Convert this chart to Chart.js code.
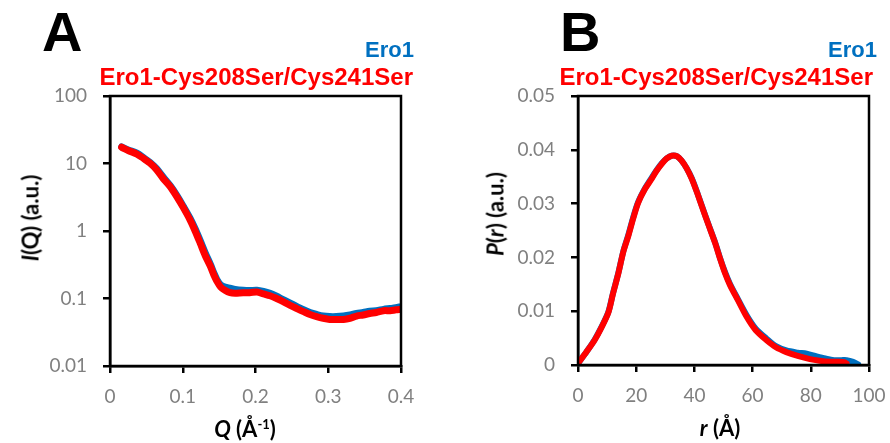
<!DOCTYPE html>
<html>
<head>
<meta charset="utf-8">
<script src="https://cdn.jsdelivr.net/npm/chart.js@4/dist/chart.umd.min.js"></script>
<style>
  body { margin: 0; background: #fff; }
  #wrap { position: relative; width: 890px; height: 443px; overflow: hidden; }
  canvas { position: absolute; top: 0; }
  .txt { position: absolute; white-space: nowrap; font-family: "Liberation Sans", Arial, sans-serif; font-weight: bold; }
  .letter { font-size: 56px; color: #000; line-height: 1; }
  .ero { font-size: 22px; color: #0070c0; text-align: right; }
  .mut { font-size: 24px; color: #ff0000; text-align: right; }
  .ttl { font-family: Lato, "Liberation Sans", sans-serif; font-size: 22px; color: #000; transform: translate(-50%, -50%); }
  .rot { transform: translate(-50%, -50%) rotate(-90deg); }
  sup { font-size: 13px; vertical-align: 8px; line-height: 0; }
</style>
</head>
<body>
<div id="wrap">
  <canvas id="chartA" width="445" height="443" style="left:0"></canvas>
  <canvas id="chartB" width="445" height="443" style="left:445px"></canvas>

  <div class="txt letter" style="left:42px; top:4px">A</div>
  <div class="txt letter" style="left:560px; top:4px">B</div>

  <div class="txt ero" style="right:476px; top:37px">Ero1</div>
  <div class="txt mut" style="right:477px; top:63px">Ero1-Cys208Ser/Cys241Ser</div>
  <div class="txt ero" style="right:13px; top:37px">Ero1</div>
  <div class="txt mut" style="right:17px; top:63px">Ero1-Cys208Ser/Cys241Ser</div>

  <div class="txt ttl rot" style="left:30px; top:218px"><i>I</i>(Q) (a.u.)</div>
  <div class="txt ttl" style="left:245px; top:428px"><i>Q</i> (Å<sup>-1</sup>)</div>
  <div class="txt ttl rot" style="left:495px; top:214px"><i>P</i>(<i>r</i>) (a.u.)</div>
  <div class="txt ttl" style="left:720px; top:427px"><i>r</i> (Å)</div>
</div>

<script>
// Panel A: scattering curve I(Q)
const qEro1 = [0.016, 0.025, 0.037, 0.046, 0.055, 0.064, 0.073, 0.083, 0.092, 0.101, 0.110, 0.117, 0.124, 0.131, 0.138, 0.143, 0.147, 0.152, 0.158, 0.165, 0.172, 0.183, 0.192, 0.202, 0.211, 0.220, 0.229, 0.238, 0.247, 0.257, 0.266, 0.275, 0.284, 0.293, 0.302, 0.311, 0.321, 0.330, 0.339, 0.348, 0.357, 0.366, 0.376, 0.385, 0.393, 0.400];
const iEro1 = [17.6, 15.9, 14.2, 12.2, 10.4, 8.4, 6.3, 4.65, 3.35, 2.3, 1.55, 1.08, 0.72, 0.47, 0.32, 0.235, 0.19, 0.16, 0.148, 0.142, 0.136, 0.132, 0.131, 0.132, 0.127, 0.119, 0.108, 0.096, 0.086, 0.076, 0.068, 0.062, 0.058, 0.055, 0.054, 0.054, 0.055, 0.057, 0.060, 0.062, 0.065, 0.066, 0.069, 0.071, 0.073, 0.076];

const qMut = [0.016, 0.025, 0.037, 0.046, 0.055, 0.064, 0.073, 0.083, 0.092, 0.101, 0.110, 0.117, 0.124, 0.131, 0.138, 0.143, 0.147, 0.152, 0.158, 0.165, 0.172, 0.183, 0.192, 0.202, 0.211, 0.220, 0.229, 0.238, 0.247, 0.257, 0.266, 0.275, 0.284, 0.293, 0.302, 0.311, 0.321, 0.330, 0.339, 0.348, 0.357, 0.366, 0.376, 0.385, 0.393, 0.400];
const iMut = [17.4, 15.6, 13.8, 11.9, 10.1, 8.1, 6.0, 4.5, 3.2, 2.2, 1.46, 1.0, 0.66, 0.43, 0.30, 0.22, 0.18, 0.148, 0.132, 0.122, 0.120, 0.122, 0.122, 0.125, 0.117, 0.110, 0.100, 0.090, 0.080, 0.071, 0.064, 0.058, 0.054, 0.051, 0.049, 0.049, 0.049, 0.051, 0.055, 0.057, 0.060, 0.062, 0.066, 0.066, 0.068, 0.069];

const qTicks = [0, 0.1, 0.2, 0.3, 0.4];
const qTickLabels = ['0', '0.1', '0.2', '0.3', '0.4'];
const iTicks = [0.01, 0.1, 1, 10, 100];
const iTickLabels = ['0.01', '0.1', '1', '10', '100'];

// Panel B: pair distance distribution P(r)
const rEro1 = [0, 3, 5.8, 8, 10.4, 12, 13.9, 15.6, 17.3, 19, 20.7, 23, 25.3, 27, 28.8, 30.5, 32.2, 34, 35.6, 37.3, 39.1, 40.8, 42.5, 44.8, 47.1, 48.8, 50.5, 52.2, 55, 57.9, 61, 64.8, 68, 71.6, 75.5, 78.6, 82, 85, 88, 90.5, 92.3, 94.5, 96.3];
const pEro1 = [0.0003, 0.0025, 0.0048, 0.007, 0.0098, 0.0133, 0.0172, 0.0212, 0.0242, 0.0275, 0.0303, 0.0328, 0.0348, 0.0362, 0.0375, 0.0384, 0.0389, 0.0388, 0.038, 0.0366, 0.0347, 0.0323, 0.0297, 0.0262, 0.0228, 0.0199, 0.0173, 0.0151, 0.0122, 0.0093, 0.0068, 0.0049, 0.0035, 0.0027, 0.0023, 0.0021, 0.0016, 0.0012, 0.0009, 0.0009, 0.0009, 0.0006, 0.0001];

const rMut = [0, 3, 5.8, 8, 10.4, 12, 13.9, 15.6, 17.3, 19, 20.7, 23, 25.3, 27, 28.8, 30.5, 32.2, 34, 35.6, 37.3, 39.1, 40.8, 42.5, 44.8, 47.1, 48.8, 50.5, 52.2, 55, 57.9, 61, 64.8, 68, 71.6, 75.5, 79.7, 83, 86.6, 89.5, 91.5, 92.3];
const pMut = [0.0003, 0.0025, 0.0047, 0.0069, 0.0097, 0.0132, 0.0171, 0.0211, 0.024, 0.0273, 0.0302, 0.0327, 0.0346, 0.0361, 0.0374, 0.0384, 0.0389, 0.0388, 0.038, 0.0366, 0.0346, 0.0322, 0.0296, 0.0261, 0.0227, 0.0198, 0.0171, 0.0149, 0.012, 0.009, 0.0065, 0.0046, 0.0033, 0.0024, 0.0017, 0.0011, 0.0008, 0.0006, 0.0006, 0.0005, 0.0003];

const rTicks = [0, 20, 40, 60, 80, 100];
const rTickLabels = ['0', '20', '40', '60', '80', '100'];
const pTicks = [0, 0.01, 0.02, 0.03, 0.04, 0.05];
const pTickLabels = ['0', '0.01', '0.02', '0.03', '0.04', '0.05'];

const BLUE = '#0070c0';
const RED = '#ff0000';
const tickFont = { family: 'Lato', size: 19 };

// draws the closed box around the plot area
const frame = {
  id: 'frame',
  afterDraw(chart) {
    const a = chart.chartArea;
    const c = chart.ctx;
    c.save();
    c.strokeStyle = '#000';
    c.lineWidth = 2.5;
    c.strokeRect(a.left, a.top, a.right - a.left, a.bottom - a.top);
    c.restore();
  }
};

function pairs(xs, ys) {
  return xs.map((x, i) => ({ x: x, y: ys[i] }));
}

function makeScale(opts, values, labels, size, isY) {
  return Object.assign({
    afterBuildTicks(scale) {
      scale.ticks = values.map(v => ({ value: v }));
    },
    afterFit(scale) {
      if (isY) scale.width = size; else scale.height = size;
      // keep the plot area where the reference has it
      scale.paddingLeft = 0; scale.paddingRight = 0;
      scale.paddingTop = 0; scale.paddingBottom = 0;
    },
    border: { display: true, color: '#000', width: 2.5 },
    grid: { display: true, drawOnChartArea: false, drawTicks: true, tickLength: 7, color: '#000', lineWidth: 2.5 },
    ticks: {
      color: '#808080', font: tickFont, padding: isY ? 16 : 12, maxRotation: 0, autoSkip: false,
      callback(value) {
        const i = values.findIndex(v => Math.abs(v - value) < 1e-9);
        return i >= 0 ? labels[i] : '';
      }
    },
    title: { display: false }
  }, opts);
}

function lineSet(label, data, color, width, order) {
  return {
    label: label,
    data: data,
    showLine: true,
    borderColor: color,
    backgroundColor: color,
    borderWidth: width,
    pointRadius: 0,
    tension: 0.3,
    borderCapStyle: 'round',
    borderJoinStyle: 'round',
    order: order
  };
}

const common = {
  responsive: false,
  animation: false,
  plugins: { legend: { display: false }, tooltip: { enabled: false } }
};

new Chart(document.getElementById('chartA'), {
  type: 'scatter',
  data: {
    datasets: [
      lineSet('Ero1-Cys208Ser/Cys241Ser', pairs(qMut, iMut), RED, 7, 0),
      lineSet('Ero1', pairs(qEro1, iEro1), BLUE, 7, 1)
    ]
  },
  options: Object.assign({}, common, {
    layout: { padding: { left: 0, right: 44, top: 96, bottom: 0 } },
    scales: {
      x: makeScale({ type: 'linear', min: 0, max: 0.4 }, qTicks, qTickLabels, 77, false),
      y: makeScale({ type: 'logarithmic', min: 0.01, max: 100 }, iTicks, iTickLabels, 110, true)
    }
  }),
  plugins: [frame]
});

new Chart(document.getElementById('chartB'), {
  type: 'scatter',
  data: {
    datasets: [
      lineSet('Ero1-Cys208Ser/Cys241Ser', pairs(rMut, pMut), RED, 6, 0),
      lineSet('Ero1', pairs(rEro1, pEro1), BLUE, 6, 1)
    ]
  },
  options: Object.assign({}, common, {
    layout: { padding: { left: 0, right: 21, top: 96, bottom: 0 } },
    scales: {
      x: makeScale({ type: 'linear', min: 0, max: 100 }, rTicks, rTickLabels, 78, false),
      y: makeScale({ type: 'linear', min: 0, max: 0.05 }, pTicks, pTickLabels, 133, true)
    }
  }),
  plugins: [frame]
});
</script>
</body>
</html>
